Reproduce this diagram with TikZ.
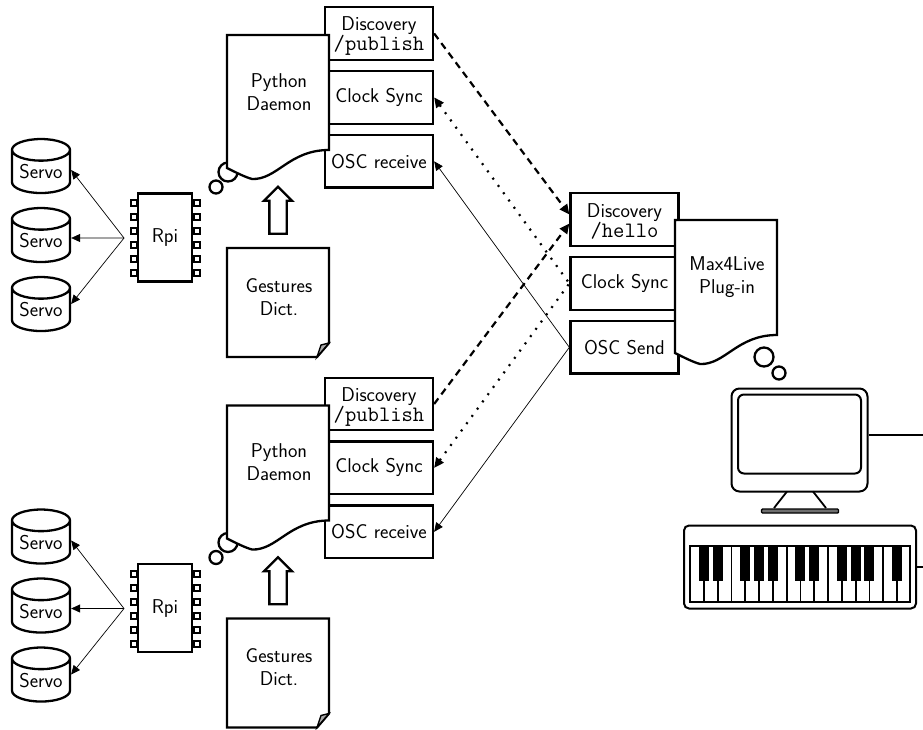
\documentclass[tikz,border=0pt]{standalone}
\usepackage{tikz}
\usetikzlibrary{arrows.meta,shapes.geometric,shapes.arrows,positioning}
\definecolor{foldgray}{RGB}{170,170,170}
\definecolor{basegray}{RGB}{110,110,110}
\tikzstyle{boxline} = [line width=2.3pt, draw=black]
\tikzstyle{deviceline} = [rectangle, line width=2pt, draw=black, fill=white]
\tikzstyle{endpoint} = [rectangle, boxline, fill=white, minimum width=108pt, minimum height=52.6pt, inner sep=0pt, align=center]
\tikzstyle{doctext} = [align=center, inner sep=0pt]
\tikzstyle{servo} = [cylinder, shape border rotate=90, aspect=0.5, boxline, fill=white, cylinder uses custom fill, cylinder body fill=white, cylinder end fill=white, minimum width=58pt, minimum height=54pt, inner sep=0pt]
\tikzstyle{chip} = [rectangle, boxline, fill=white, minimum width=54pt, minimum height=88pt]
\tikzstyle{pin} = [rectangle, line width=2pt, draw=black, fill=white, minimum width=6pt, minimum height=6pt, inner sep=0pt]
\tikzstyle{bubble} = [circle, boxline, fill=white, inner sep=0pt]
\tikzstyle{thinarrow} = [line width=0.7pt, -{Triangle[length=9pt,width=8pt]}]
\tikzstyle{dashedarrow} = [line width=2.2pt, dash pattern=on 7pt off 5pt, -{Triangle[length=10pt,width=9pt]}]
\tikzstyle{dottedarrow} = [line width=2.2pt, dash pattern=on 2pt off 7pt]
\newcommand{\ttline}[1]{{\fontsize{22}{22}\selectfont\ttfamily #1}}
% page with a wavy lower edge, #1 = upper left corner
\newcommand{\wavepage}[3]{
\begin{scope}[shift={#1}]
\draw[boxline, fill=white] (0,0) -- (102,0) -- (102,115) .. controls (62,115) and (50,145) .. (25,144) .. controls (18,142) and (10,138) .. (0,133) -- cycle;
\node (#2) [doctext] at (52,57) {#3};
\end{scope}
}
% page with a folded corner, #1 = upper left corner
\newcommand{\foldpage}[3]{
\begin{scope}[shift={#1}]
\draw[boxline, fill=white] (0,0) -- (102,0) -- (102,95) -- (90,109) -- (0,109) -- cycle;
\draw[line width=1.4pt, fill=foldgray] (90,109) -- (94,97) -- (102,95) -- cycle;
\node (#2) [doctext] at (52,49) {#3};
\end{scope}
}
\begin{document}
\begin{tikzpicture}[x=1pt, y=-1pt, every node/.style={font=\fontsize{20}{23}\selectfont\sffamily}]
\useasboundingbox (0,0) rectangle (923,729);

% the two players
\foreach \row/\dy in {A/0,B/370.5} {
\begin{scope}[shift={(0,\dy)}]
\node (disc\row) [endpoint] at (379,33.5) {\rule{0pt}{19pt}Discovery\\[-3pt]\ttline{/publish}};
\node (clock\row) [endpoint, below=9pt of disc\row] {Clock Sync};
\node (osc\row) [endpoint, below=9pt of clock\row] {OSC receive};
\node (bigb\row) [bubble, minimum size=19pt] at (228,172) {};
\node (smallb\row) [bubble, minimum size=13pt] at (216,187) {};
\wavepage{(227,35)}{daemon\row}{Python\\Daemon}
\foldpage{(227,248)}{dict\row}{Gestures\\Dict.}
\node (up\row) [single arrow, boxline, fill=white, rotate=90, minimum height=47pt, minimum width=26pt, single arrow head extend=5.5pt, single arrow head indent=0pt, inner sep=7.5pt] at (278,214.5) {};
% chip and its pins
\foreach \py in {203,217,231,245,259,273} {
\node (pinl\row\py) [pin] at (134,\py) {};
\node (pinr\row\py) [pin] at (197,\py) {};
}
\node (rpi\row) [chip] at (165,237.5) {Rpi};
\coordinate (fan\row) at (124,238);
% servos
\foreach \n/\sy in {1/172,2/241,3/310} {
\node (servo\row\n) [servo] at (41,\sy) {Servo};
}
\draw[thinarrow] (fan\row) -- ([yshift=2pt]servo\row1.east);
\draw[thinarrow] (fan\row) -- ([yshift=3pt]servo\row2.east);
\draw[thinarrow] (fan\row) -- ([yshift=6pt]servo\row3.east);
\end{scope}
}

% the plug-in side
\node (hello) [endpoint] at (624.5,219.5) {\rule{0pt}{17pt}Discovery\\[-3pt]\ttline{/hello}};
\node (clockM) [endpoint, below=9pt of hello] {Clock Sync};
\node (send) [endpoint, below=9pt of clockM] {OSC Send};
\wavepage{(675,220)}{plugin}{Max4Live\\Plug-in}
\node (bigbM) [bubble, minimum size=19pt] at (764,357) {};
\node (smallbM) [bubble, minimum size=13pt] at (779,373) {};

% messages
\draw[dashedarrow] (discA.east) -- ([yshift=5pt]hello.west);
\draw[dashedarrow] (discB.east) -- ([yshift=-4pt]hello.west);
\draw[dottedarrow, {Triangle[length=10pt,width=9pt]}-] (clockA.east) -- (clockM.west);
\draw[dottedarrow, {Triangle[length=10pt,width=9pt]}-] (clockB.east) -- (clockM.west);
\draw[thinarrow] (send.west) -- (oscA.east);
\draw[thinarrow] (send.west) -- (oscB.east);

% computer
\node (monitor) [deviceline, rounded corners=8pt, minimum width=136pt, minimum height=103pt] at (799.5,440) {};
\node (screen) [deviceline, rounded corners=6pt, minimum width=123pt, minimum height=79pt] at (799.5,434) {};
\node (foot) [rectangle, rounded corners=1pt, line width=1.4pt, draw=black, fill=basegray, minimum width=77pt, minimum height=4pt, inner sep=0pt] at (800,511) {};
\draw[line width=1.8pt] (787,491.5) -- (774,508);
\draw[line width=1.8pt] (813,491.5) -- (826,508);
\coordinate (monitorend) at (923,435);
\draw[line width=1.6pt] (monitor.east |- monitorend) -- (monitorend);

% keyboard
\node (keyboard) [deviceline, rounded corners=5pt, minimum width=232pt, minimum height=83pt] at (800,567) {};
\node (keybed) [deviceline, minimum width=220pt, minimum height=56pt, inner sep=0pt] at (800,573.5) {};
\foreach \k in {1,...,15} {
\draw[line width=1.8pt] ({690+13.8*\k},545) -- ({690+13.8*\k},602);
}
\foreach \k in {1,2,4,5,6,8,9,11,12,13,15} {
\fill ({690+13.8*\k-5},545) rectangle ({690+13.8*\k+5},581);
}
\coordinate (keyboardend) at (923,567);
\draw[line width=1.6pt] (keyboard.east) -- (keyboardend);
\end{tikzpicture}
\end{document}
